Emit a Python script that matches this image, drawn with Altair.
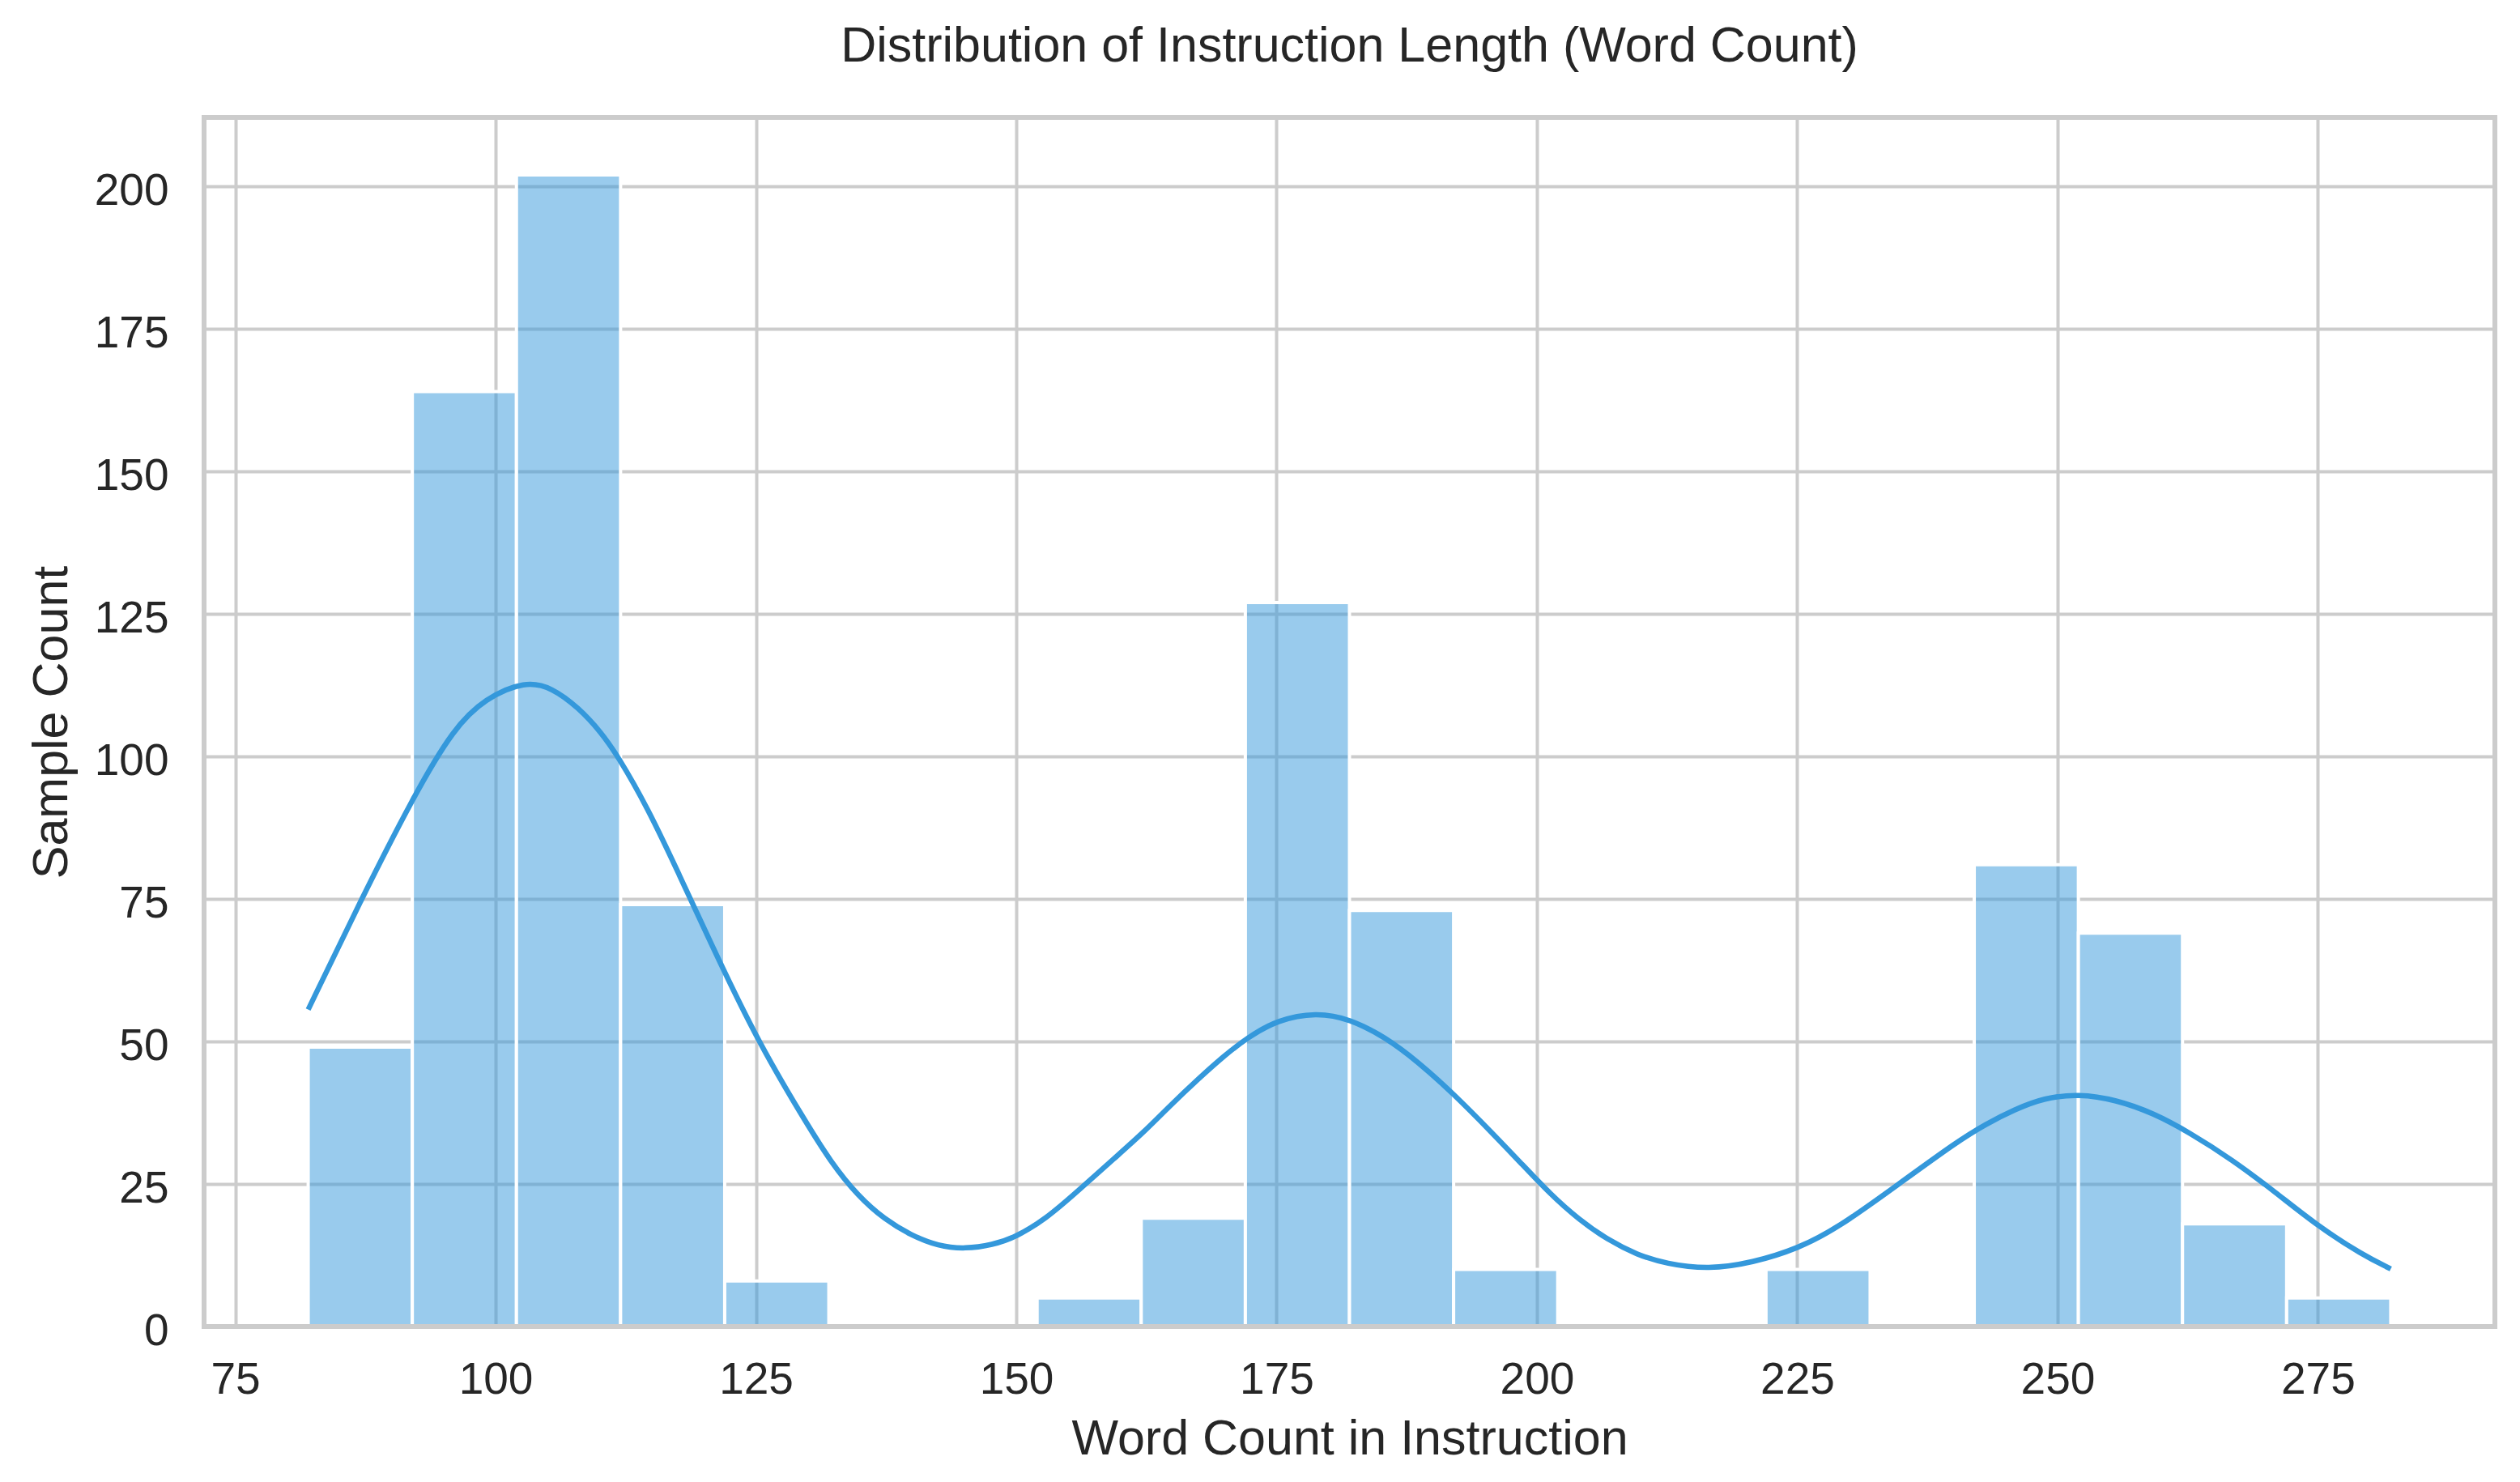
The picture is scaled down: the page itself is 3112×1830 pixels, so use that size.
import altair as alt
import pandas as pd

# Histogram bins (word count) and counts
bin_edges = [82, 92, 102, 112, 122, 132, 142, 152, 162, 172, 182,
             192, 202, 212, 222, 232, 242, 252, 262, 272, 282]
bin_counts = [49, 164, 202, 74, 8, 0, 0, 5, 19, 127, 73,
              10, 0, 0, 10, 0, 81, 69, 18, 5]

# KDE curve (scaled to counts)
kde_x = [82.0, 87.0, 92.2, 96.0, 99.0, 102.85, 105.4, 108.0, 110.1, 111.7,
         114.6, 117.6, 120.5, 125.0, 129.6, 132.2, 134.8, 137.35, 139.9, 142.5,
         145.1, 147.7, 150.0, 152.9, 155.5, 159.6, 162.2, 164.8, 167.4, 169.9,
         172.2, 175.1, 178.8, 182.0, 185.5, 188.6, 191.9, 195.9, 198.5, 201.3,
         204.0, 206.8, 209.6, 212.4, 216.5, 220.7, 225.0, 229.0, 234.6, 240.4,
         243.1, 245.9, 248.7, 252.0, 255.6, 259.25, 262.6, 266.75, 270.9, 275.0,
         279.25, 282.0]
kde_y = [55.6, 74.6, 93.3, 105.0, 110.2, 113.25, 112.1, 108.5, 104.3, 100.2,
         91.0, 79.4, 67.9, 50.6, 36.4, 28.8, 22.9, 18.8, 16.0, 14.1,
         13.6, 14.3, 15.7, 19.0, 23.1, 29.8, 34.0, 38.8, 43.3, 47.4,
         50.7, 53.8, 55.1, 54.0, 50.7, 46.4, 41.0, 33.6, 28.6, 23.2,
         18.8, 15.2, 12.6, 11.0, 10.0, 11.2, 13.6, 17.4, 24.8, 32.5,
         35.5, 38.1, 40.1, 40.8, 39.8, 37.4, 34.1, 29.3, 23.6, 17.6,
         12.6, 10.1]

x_ticks = [75, 100, 125, 150, 175, 200, 225, 250, 275]
y_ticks = [0, 25, 50, 75, 100, 125, 150, 175, 200]

title_text = "Distribution of Instruction Length (Word Count)"
x_title = "Word Count in Instruction"
y_title = "Sample Count"

W, H = 2829, 1493
FONT = "Liberation Sans"
TXT = "#262626"
GRID = "#cccccc"
BLUE = "#3498db"

bars_df = pd.DataFrame({"start": bin_edges[:-1], "end": bin_edges[1:], "count": bin_counts})
kde_df = pd.DataFrame({"wx": kde_x, "wy": kde_y})
frame_df = pd.DataFrame({"f": [0]})

x_scale = alt.Scale(domain=[72, 292], nice=False, zero=False)
y_scale = alt.Scale(domain=[0, 212.1], nice=False, zero=True)

x_axis = alt.Axis(values=x_ticks, title=x_title, grid=True, labelPadding=82,
                  labelBaseline="alphabetic", titleX=W / 2, titleY=157,
                  titleBaseline="alphabetic", titleAlign="center")
y_axis = alt.Axis(values=y_ticks, title=y_title, grid=True, labelPadding=44,
                  labelOffset=5, titleX=-170, titleY=H / 2, titleAngle=270,
                  titleBaseline="alphabetic", titleAlign="center")

bars = alt.Chart(bars_df).transform_filter("datum.count > 0").mark_rect(
    fill=BLUE, fillOpacity=0.5, stroke="white", strokeWidth=4
).encode(
    x=alt.X("start:Q", scale=x_scale, axis=x_axis, title=x_title),
    x2="end:Q",
    y=alt.Y("count:Q", scale=y_scale, axis=y_axis, title=y_title),
    y2=alt.datum(0),
)

line = alt.Chart(kde_df).mark_line(
    color=BLUE, strokeWidth=6.5, interpolate="basis"
).encode(
    x=alt.X("wx:Q", scale=x_scale, title=x_title),
    y=alt.Y("wy:Q", scale=y_scale, title=y_title),
)

frame = alt.Chart(frame_df).mark_rect(
    filled=False, stroke=GRID, strokeWidth=6
).encode(
    x=alt.value(0), x2=alt.value(W), y=alt.value(0), y2=alt.value(H)
)

chart = alt.layer(bars, line, frame).properties(
    width=W, height=H,
    title=alt.TitleParams(title_text, fontSize=61, font=FONT, color=TXT,
                          fontWeight="normal", anchor="middle",
                          baseline="alphabetic", offset=5, frame="group"),
    autosize=alt.AutoSizeParams(type="none"),
    padding={"left": 244, "top": 137, "right": 20, "bottom": 180},
).configure_view(
    strokeOpacity=0
).configure_axis(
    domain=False, ticks=False, tickSize=0,
    gridColor=GRID, gridWidth=4, gridOpacity=1,
    labelFont=FONT, labelFontSize=55, labelColor=TXT,
    titleFont=FONT, titleFontSize=61, titleColor=TXT, titleFontWeight="normal",
)

chart.save("out.html", embed_options={"renderer": "svg", "actions": False})
